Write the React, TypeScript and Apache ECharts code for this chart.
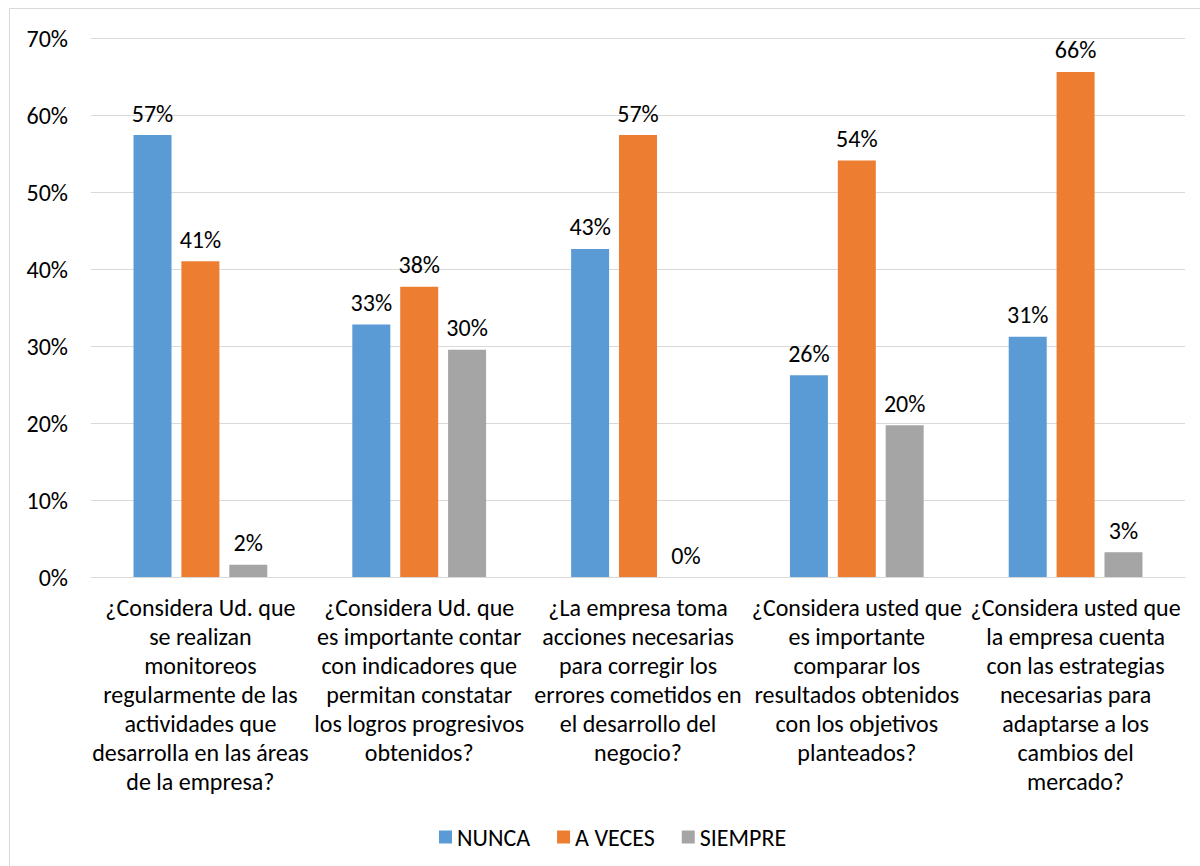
import React, { useEffect, useRef } from "react";
import * as echarts from "echarts";

const categories = [
  "¿Considera Ud. que\nse realizan\nmonitoreos\nregularmente de las\nactividades que\ndesarrolla en las áreas\nde la empresa?",
  "¿Considera Ud. que\nes importante contar\ncon indicadores que\npermitan constatar\nlos logros progresivos\nobtenidos?",
  "¿La empresa toma\nacciones necesarias\npara corregir los\nerrores cometidos en\nel desarrollo del\nnegocio?",
  "¿Considera usted que\nes importante\ncomparar los\nresultados obtenidos\ncon los objetivos\nplanteados?",
  "¿Considera usted que\nla empresa cuenta\ncon las estrategias\nnecesarias para\nadaptarse a los\ncambios del\nmercado?",
];
const nunca = [57.4, 32.8, 42.6, 26.2, 31.2];
const aVeces = [41.0, 37.7, 57.4, 54.1, 65.6];
const siempre = [1.6, 29.5, 0, 19.7, 3.2];
const seriesNames = ["NUNCA", "A VECES", "SIEMPRE"];
const colors = ["#5B9BD5", "#ED7D31", "#A5A5A5"];

const FONT = "Carlito, Lato, 'Open Sans', sans-serif";

export default function App() {
  const ref = useRef<HTMLDivElement>(null);
  useEffect(() => {
    if (!ref.current) return;
    const chart = echarts.init(ref.current, undefined, { renderer: "svg" });
    const mkSeries = (name: string, data: number[], color: string) => ({
      name,
      type: "bar",
      data,
      barWidth: 38,
      barGap: "26%",
      itemStyle: { color },
      label: {
        show: true,
        position: "top",
        distance: 10,
        formatter: (p: any) => Math.round(p.value) + "%",
        fontFamily: FONT,
        fontSize: 24,
        color: "#000",
      },
    });
    chart.setOption({
      animation: false,
      textStyle: { fontFamily: FONT },
      graphic: [
        {
          type: "rect",
          shape: { x: 9.5, y: 8.5, width: 1220, height: 900 },
          style: { fill: "none", stroke: "#D9D9D9", lineWidth: 1 },
          silent: true,
        },
      ],
      grid: { left: 91, right: 15, top: 38, bottom: 289, containLabel: false },
      legend: {
        top: 820,
        left: 434,
        itemWidth: 13,
        itemHeight: 13,
        itemGap: 27,
        icon: "rect",
        textStyle: { fontFamily: FONT, fontSize: 24, color: "#000" },
        data: seriesNames,
      },
      xAxis: {
        type: "category",
        data: categories,
        axisLine: { lineStyle: { color: "#D9D9D9", width: 1 } },
        axisTick: { show: false },
        axisLabel: {
          interval: 0,
          margin: 16,
          fontFamily: FONT,
          fontSize: 24,
          lineHeight: 29,
          color: "#000",
          align: "center",
        },
      },
      yAxis: {
        type: "value",
        min: 0,
        max: 70,
        interval: 10,
        axisLine: { show: false },
        axisTick: { show: false },
        splitLine: { lineStyle: { color: "#D9D9D9", width: 1 } },
        axisLabel: {
          formatter: "{value}%",
          margin: 23,
          fontFamily: FONT,
          fontSize: 24,
          color: "#000",
        },
      },
      series: [
        mkSeries(seriesNames[0], nunca, colors[0]),
        mkSeries(seriesNames[1], aVeces, colors[1]),
        mkSeries(seriesNames[2], siempre, colors[2]),
      ],
    });
    return () => chart.dispose();
  }, []);
  return (
    <div
      ref={ref}
      style={{ position: "absolute", left: 0, top: 0, width: 1200, height: 866, background: "#fff" }}
    />
  );
}
